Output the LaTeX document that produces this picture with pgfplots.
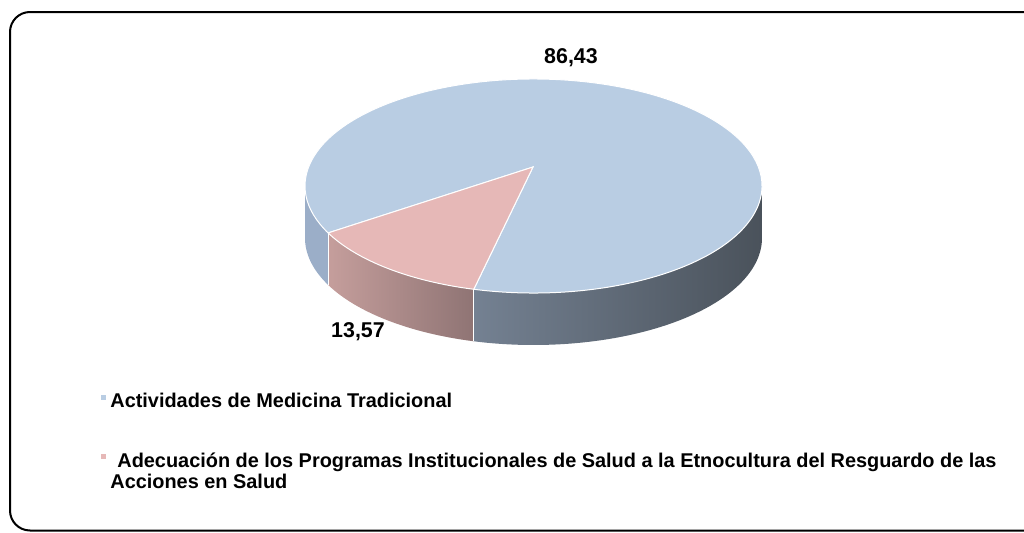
\documentclass[border=0pt]{standalone}
\usepackage{fontspec}
\setmainfont{Liberation Sans}
\usepackage{pgfplots}
\pgfplotsset{compat=1.18}
\usepackage{pgfplotstable}
\definecolor{topblue}{HTML}{B9CDE3}
\definecolor{toppink}{HTML}{E6B8B7}
\definecolor{sideblueL}{HTML}{748192}
\definecolor{sideblueM}{HTML}{4C545F}
\definecolor{sideblueR}{HTML}{4A525B}
\definecolor{sliver}{HTML}{9BAEC8}
\definecolor{sidepinkL}{HTML}{C59E9C}
\definecolor{sidepinkR}{HTML}{8F7474}
\pgfplotstableread{
share
86.43
13.57
}\piedata
\pgfplotstablegetelem{0}{share}\of\piedata \let\va\pgfplotsretval
\pgfplotstablegetelem{1}{share}\of\piedata \let\vb\pgfplotsretval
\begin{document}
\begin{tikzpicture}
\def\cx{533.5}\def\cy{346}\def\ax{533}\def\ay{365}
\def\rx{228.5}\def\ry{107}
\pgfmathsetmacro{\ps}{206}
\pgfmathsetmacro{\pe}{\ps+3.6*\vb}
\pgfmathsetmacro{\be}{\ps+360}
\begin{axis}[scale only axis, width=512pt, height=266pt,
  xmin=0, xmax=1024, ymin=0, ymax=532, hide axis, clip=false]
% side walls
\fill[sliver] (axis cs:{\cx-\rx},{\cy}) arc[start angle=180,end angle=\ps,x radius=114.25pt,y radius=53.5pt] -- ++(0pt,-26pt) arc[start angle=\ps,end angle=180,x radius=114.25pt,y radius=53.5pt] -- cycle;
\shade[left color=sidepinkL, right color=sidepinkR] (axis cs:{\cx+\rx*cos(\ps)},{\cy+\ry*sin(\ps)}) arc[start angle=\ps,end angle=\pe,x radius=114.25pt,y radius=53.5pt] -- ++(0pt,-26pt) arc[start angle=\pe,end angle=\ps,x radius=114.25pt,y radius=53.5pt] -- cycle;
\shade[left color=sideblueL, middle color=sideblueM, right color=sideblueR] (axis cs:{\cx+\rx*cos(\pe)},{\cy+\ry*sin(\pe)}) arc[start angle=\pe,end angle=360,x radius=114.25pt,y radius=53.5pt] -- ++(0pt,-26pt) arc[start angle=360,end angle=\pe,x radius=114.25pt,y radius=53.5pt] -- cycle;
\draw[white, line width=0.5pt] (axis cs:{\cx+\rx*cos(\ps)},{\cy+\ry*sin(\ps)}) -- ++(0pt,-26pt);
\draw[white, line width=0.5pt] (axis cs:{\cx+\rx*cos(\pe)},{\cy+\ry*sin(\pe)}) -- ++(0pt,-26pt);
% top
\fill[topblue, draw=white, line width=0.5pt] (axis cs:\ax,\ay) -- (axis cs:{\cx+\rx*cos(\pe)},{\cy+\ry*sin(\pe)}) arc[start angle=\pe,end angle=\be,x radius=114.25pt,y radius=53.5pt] -- cycle;
\fill[toppink, draw=white, line width=0.5pt] (axis cs:\ax,\ay) -- (axis cs:{\cx+\rx*cos(\ps)},{\cy+\ry*sin(\ps)}) arc[start angle=\ps,end angle=\pe,x radius=114.25pt,y radius=53.5pt] -- cycle;
% data labels
\node[font=\bfseries\fontsize{10.7}{12}\selectfont] at (axis cs:571,474) {86,43};
\node[font=\bfseries\fontsize{10.7}{12}\selectfont] at (axis cs:358,200) {13,57};
% legend
\fill[topblue] (axis cs:101,132) rectangle ++(2.5pt,2.5pt);
\fill[toppink] (axis cs:101,73) rectangle ++(2.5pt,2.5pt);
\node[anchor=base west, inner sep=0pt, font=\bfseries\fontsize{9.95}{11}\selectfont] at (axis cs:110,125) {Actividades de Medicina Tradicional};
\node[anchor=base west, inner sep=0pt, font=\bfseries\fontsize{9.95}{11}\selectfont] at (axis cs:117,65) {Adecuación de los Programas Institucionales de Salud a la Etnocultura del Resguardo de las};
\node[anchor=base west, inner sep=0pt, font=\bfseries\fontsize{9.95}{11}\selectfont] at (axis cs:110,44) {Acciones en Salud};
% frame
\draw[line width=1pt, rounded corners=10pt] (axis cs:10,1.5) rectangle (axis cs:1045,520);
\end{axis}
\pgfresetboundingbox
\path[use as bounding box] (0,0) rectangle (512pt,266pt);
\end{tikzpicture}
\end{document}
